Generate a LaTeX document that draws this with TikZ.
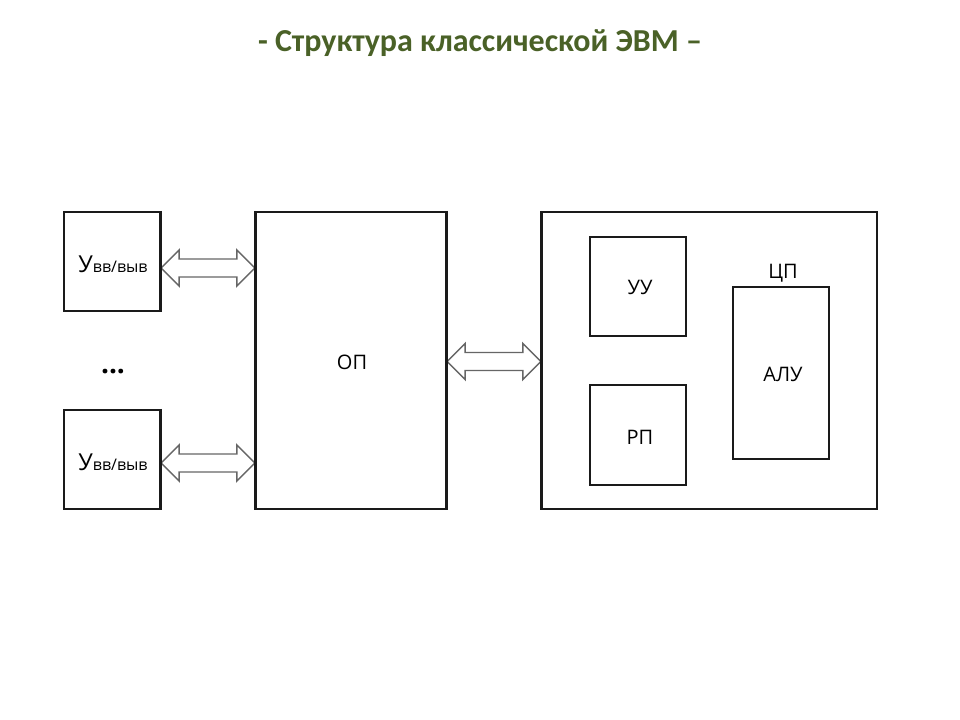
\documentclass[tikz,border=0pt]{standalone}
\usepackage{fontspec}
\setmainfont{Open Sans}
\newfontfamily\titlefont{Carlito}
\usetikzlibrary{calc}
\definecolor{titlegreen}{HTML}{4A6127}
\definecolor{arrgray}{HTML}{666666}
\definecolor{boxline}{HTML}{1A1A1A}
\newcommand\dblarr[2]{%
  \draw[dblarrow] (#1) -- ++(18,-18) -- ++(0,9) -- ($(#2)+(-18,-9)$) -- ++(0,-9)
    -- (#2) -- ++(-18,18) -- ++(0,-9) -- ($(#1)+(18,9)$) -- ++(0,9) -- cycle;}
\newcommand\uvv{{\fontsize{17.5}{20}\selectfont У}{\fontsize{12}{14}\selectfont вв/выв}}
\begin{document}
\begin{tikzpicture}[x=0.75pt,y=-0.75pt,
  blk/.style={draw=boxline,line width=1.8pt,inner sep=0pt,fill=none},
  lbl/.style={font=\fontsize{15}{18}\selectfont,inner sep=0pt},
  dblarrow/.style={draw=arrgray,line width=1.1pt,fill=white,line join=miter}]
\useasboundingbox (0,0) rectangle (960,720);
\fill[white] (0,0) rectangle (960,720);
\node[anchor=base,text=titlegreen,font=\titlefont\bfseries\fontsize{24}{28}\selectfont] (title) at (480,52) {- Структура классической ЭВМ –};
% boxes
\node[blk,minimum width=72pt,minimum height=74.25pt] (u1) at (112,261.5) {};
\node[blk,minimum width=72pt,minimum height=74.25pt] (u2) at (112,459.5) {};
\node[blk,minimum width=142.5pt,minimum height=222.75pt] (op) at (351,360.5) {};
\node[blk,minimum width=251.25pt,minimum height=222.75pt] (cp) at (709.5,360.5) {};
\node[blk,minimum width=72pt,minimum height=74.25pt] (uu) at (638,286.5) {};
\node[blk,minimum width=72pt,minimum height=75pt] (rp) at (638,435) {};
\node[blk,minimum width=72pt,minimum height=129pt] (alu) at (781,373) {};
% labels
\node[inner sep=0pt] (u1l) at (113,264) {\uvv};
\node[inner sep=0pt] (u2l) at (113,462) {\uvv};
\node[inner sep=0pt,font=\bfseries\fontsize{21}{24}\selectfont] (dots) at (113,372) {...};
\node[lbl] (opl) at (352,362) {ОП};
\node[lbl] (uul) at (640,287) {УУ};
\node[lbl] (rpl) at (640,437) {РП};
\node[lbl] (alul) at (783,374) {АЛУ};
\node[lbl] (cpl) at (783,273) {ЦП};
% arrow end points
\coordinate (a1s) at ($(u1.east)+(0,6.5)$);
\coordinate (a1e) at (op.west |- a1s);
\coordinate (a2s) at ($(u2.east)+(0,3.5)$);
\coordinate (a2e) at (op.west |- a2s);
\coordinate (a3s) at ($(op.east)+(0,1)$);
\coordinate (a3e) at (cp.west |- a3s);
\dblarr{a1s}{a1e}
\dblarr{a2s}{a2e}
\dblarr{a3s}{a3e}
% redraw box borders over arrow tips
\draw[draw=boxline,line width=1.8pt] (u1.north east) -- (u1.south east);
\draw[draw=boxline,line width=1.8pt] (u2.north east) -- (u2.south east);
\draw[draw=boxline,line width=1.8pt] (op.north west) -- (op.south west);
\draw[draw=boxline,line width=1.8pt] (op.north east) -- (op.south east);
\draw[draw=boxline,line width=1.8pt] (cp.north west) -- (cp.south west);
\end{tikzpicture}
\end{document}
